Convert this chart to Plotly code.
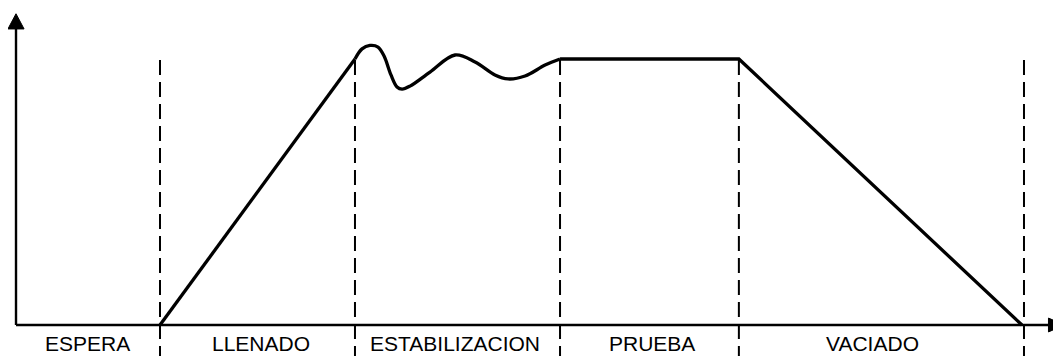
import plotly.graph_objects as go

# phases of the test (time in arbitrary units, level in % of test level)
phases = ["ESPERA", "LLENADO", "ESTABILIZACION", "PRUEBA", "VACIADO"]
label_t = [4.93, 17.01, 30.49, 44.17, 59.51]
boundaries_t = [10.0, 23.54, 37.78, 50.2, 70.0]

# straight parts: filling ramp, then plateau + emptying ramp
fill_t = [10.0, 23.54]
fill_level = [0.0, 100.0]
test_t = [37.78, 50.2, 69.86]
test_level = [100.0, 100.0, 0.0]

# stabilisation wobble
stab_t = [23.54, 24.03, 24.58, 25.14, 25.56, 26.04, 26.46, 26.81, 27.36,
          28.75, 30.49, 31.88, 33.26, 34.17, 35.35, 36.74, 37.78]
stab_level = [100.0, 103.8, 105.1, 104.5, 101.1, 94.0, 89.5, 88.7, 89.8,
              95.1, 101.5, 98.9, 94.0, 92.5, 93.6, 97.7, 100.0]

# page body has an 8px margin, so the figure is 8px smaller and ranges start there
X_RANGE = [-0.556, 72.57]
Y_RANGE = [-11.65, 119.17]

fig = go.Figure()
line = dict(color="black", width=3.3)
fig.add_trace(go.Scatter(x=fill_t, y=fill_level, mode="lines", line=line))
fig.add_trace(go.Scatter(x=stab_t, y=stab_level, mode="lines",
                         line=dict(color="black", width=3.3, shape="spline", smoothing=1.0)))
fig.add_trace(go.Scatter(x=test_t, y=test_level, mode="lines", line=line))

shapes = []
# dashed phase boundaries
for b in boundaries_t:
    shapes.append(dict(type="line", xref="x", yref="y", x0=b, x1=b, y0=99.6, y1=Y_RANGE[0],
                       line=dict(color="black", width=2, dash="15px,7px"), layer="below"))
# axes
shapes.append(dict(type="line", xref="x", yref="y", x0=0, x1=0, y0=0, y1=112,
                   line=dict(color="black", width=2.4)))
shapes.append(dict(type="line", xref="x", yref="y", x0=0, x1=72.0, y0=0, y1=0,
                   line=dict(color="black", width=2.4)))
# arrow heads
shapes.append(dict(type="path", xref="x", yref="y",
                   path="M -0.56,111.3 L 0.56,111.3 L 0,117.0 Z",
                   fillcolor="black", line=dict(color="black", width=1)))
shapes.append(dict(type="path", xref="x", yref="y",
                   path="M 71.7,2.6 L 71.7,-2.6 L 72.8,0 Z",
                   fillcolor="black", line=dict(color="black", width=1)))

annotations = [dict(x=t, y=-7.0, xref="x", yref="y", text=p, showarrow=False,
                    font=dict(family="Liberation Sans, Arial", size=21, color="black"),
                    xanchor="center", yanchor="middle")
               for p, t in zip(phases, label_t)]

fig.update_layout(
    width=1053, height=348,
    margin=dict(l=0, r=0, t=0, b=0),
    paper_bgcolor="white", plot_bgcolor="white",
    showlegend=False,
    shapes=shapes, annotations=annotations,
    xaxis=dict(range=X_RANGE, visible=False, fixedrange=True),
    yaxis=dict(range=Y_RANGE, visible=False, fixedrange=True),
)

fig.write_html("out.html")
